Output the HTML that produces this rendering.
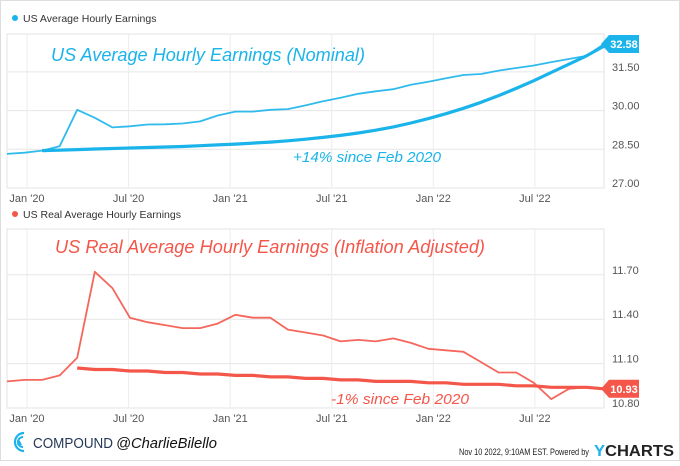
<!DOCTYPE html>
<html><head><meta charset="utf-8"><style>
html,body{margin:0;padding:0;background:#fff;}
body{width:680px;height:461px;overflow:hidden;font-family:"Liberation Sans",sans-serif;}
svg text{font-family:"Liberation Sans",sans-serif;}
</style></head><body>
<svg id="c" width="680" height="461" viewBox="0 0 680 461" xmlns="http://www.w3.org/2000/svg">
<rect x="0.5" y="0.5" width="679" height="460" fill="#fff" stroke="#ddd"/>
</svg>
<script>
const months = ['Dec19','Jan20','Feb20','Mar20','Apr20','May20','Jun20','Jul20','Aug20','Sep20','Oct20','Nov20','Dec20','Jan21','Feb21','Mar21','Apr21','May21','Jun21','Jul21','Aug21','Sep21','Oct21','Nov21','Dec21','Jan22','Feb22','Mar22','Apr22','May22','Jun22','Jul22','Aug22','Sep22','Oct22'];
const nominal = [28.32,28.37,28.45,28.62,30.03,29.72,29.35,29.39,29.46,29.47,29.50,29.58,29.81,29.96,29.96,30.03,30.06,30.20,30.36,30.50,30.65,30.75,30.83,31.00,31.12,31.25,31.38,31.42,31.55,31.65,31.75,31.88,32.00,32.12,32.58];
const nominalTrend = [null,null,28.45,28.47,28.49,28.51,28.53,28.55,28.57,28.59,28.61,28.64,28.67,28.70,28.74,28.78,28.83,28.89,28.96,29.04,29.13,29.24,29.37,29.52,29.69,29.88,30.09,30.32,30.58,30.86,31.16,31.48,31.80,32.12,32.50];
const real = [10.98,10.99,10.99,11.02,11.14,11.72,11.61,11.41,11.38,11.36,11.34,11.34,11.37,11.43,11.41,11.41,11.33,11.31,11.29,11.25,11.26,11.25,11.27,11.24,11.20,11.19,11.18,11.11,11.04,11.04,10.97,10.86,10.93,10.94,10.93];
const realTrend = [null,null,null,null,11.07,11.06,11.06,11.05,11.05,11.04,11.04,11.03,11.03,11.02,11.02,11.01,11.01,11.00,11.00,10.99,10.99,10.98,10.98,10.98,10.97,10.97,10.96,10.96,10.96,10.95,10.95,10.94,10.94,10.94,10.93];
const xTicks = ["Jan '20","Jul '20","Jan '21","Jul '21","Jan '22","Jul '22"];
const xTickIdx = [1,7,13,19,25,31];
const topTicks = [27.00,28.50,30.00,31.50];
const botTicks = [10.80,11.10,11.40,11.70];

const svg = document.getElementById('c');
const NS = 'http://www.w3.org/2000/svg';
function el(tag, attrs, parent){const e=document.createElementNS(NS,tag);for(const k in attrs)e.setAttribute(k,attrs[k]);(parent||svg).appendChild(e);return e;}
const X0=7, X1=604;
function xs(i){return X0 + i*(X1-X0)/(months.length-1);}
function gridX(i){return 27 + (i-1)*16.93;}

function panel(cfg){
  const g = el('g',{});
  
  
  const ys = v => cfg.bottom - (v-cfg.min)*cfg.scale;
  el('rect',{x:X0,y:cfg.top,width:X1-X0,height:cfg.bottom-cfg.top,fill:'none',stroke:'#e3e3e3'},g);
  cfg.ticks.forEach(t=>{
    const y=ys(t);
    const l=el('line',{x1:X0,x2:X1,y1:y,y2:y,stroke:'#e6e6e6'},g);
    
    
    const tx=el('text',{x:612,y:y-1,'font-size':11,fill:'#555'},g);
    tx.textContent=t.toFixed(2);
    
    
  });
  xTicks.forEach((lab,k)=>{
    const x=gridX(xTickIdx[k]);
    const l=el('line',{x1:x,x2:x,y1:cfg.top,y2:cfg.bottom,stroke:'#ececec'},g);
    
    
    const tx=el('text',{x:x,y:cfg.bottom+14,'font-size':11,fill:'#555','text-anchor':'middle'},g);
    tx.textContent=lab;
    
    
  });
  const ld=el('circle',{cx:15,cy:cfg.legendY-4,r:3,fill:cfg.color},g);
  
  
  const lt=el('text',{x:23,y:cfg.legendY,'font-size':10.5,fill:'#333'},g);
  lt.textContent=cfg.legend;
  
  
  const pts=cfg.values.map((v,i)=>xs(i).toFixed(1)+','+ys(v).toFixed(1)).join(' ');
  const p=el('polyline',{points:pts,fill:'none',stroke:cfg.color,'stroke-width':1.8,'stroke-linejoin':'round','stroke-opacity':0.9},g);
  
  
  const tp=[];cfg.trend.forEach((v,i)=>{if(v!==null)tp.push(xs(i).toFixed(1)+','+ys(v).toFixed(1));});
  const t=el('polyline',{points:tp.join(' '),fill:'none',stroke:cfg.color,'stroke-width':3.2,'stroke-linejoin':'round'},g);
  
  
  const lv=cfg.values[cfg.values.length-1], ly=ys(lv);
  const b=el('path',{d:`M${X1-3},${ly} L${X1+5},${ly-9} L${X1+35},${ly-9} L${X1+35},${ly+9} L${X1+5},${ly+9} Z`,fill:cfg.color},g);
  
  
  const bt=el('text',{x:X1+20,y:ly+4,'font-size':11,'font-weight':'bold',fill:'#fff','text-anchor':'middle'},g);
  bt.textContent=lv.toFixed(2);
  
  
  const a1=el('text',{x:cfg.titleX,y:cfg.titleY,'font-size':18,fill:cfg.color,'font-family':'DejaVu Sans, sans-serif','font-style':'italic',textLength:cfg.titleW,lengthAdjust:'spacingAndGlyphs'},g);
  a1.textContent=cfg.title;
  
  
  const a2=el('text',{x:cfg.noteX,y:cfg.noteY,'font-size':15,fill:cfg.color,'font-family':'DejaVu Sans, sans-serif','font-style':'italic',textLength:cfg.noteW,lengthAdjust:'spacingAndGlyphs'},g);
  a2.textContent=cfg.note;
  
  
}
panel({name:'nominal-earnings',top:34,bottom:188,min:27,scale:25.8,ticks:topTicks,color:'#1ab4ea',values:nominal,trend:nominalTrend,legendY:22,legend:'US Average Hourly Earnings',title:'US Average Hourly Earnings (Nominal)',titleX:51,titleY:61,titleW:314,note:'+14% since Feb 2020',noteX:293,noteY:162,noteW:148});
panel({name:'real-earnings',top:229,bottom:408,min:10.8,scale:148,ticks:botTicks,color:'#f4564a',values:real,trend:realTrend,legendY:218,legend:'US Real Average Hourly Earnings',title:'US Real Average Hourly Earnings (Inflation Adjusted)',titleX:55,titleY:253,titleW:430,note:'-1% since Feb 2020',noteX:331,noteY:404,noteW:138});

const logo=el('g',{});


el('path',{d:'M24,433 A9,9 0 1 0 24,451',fill:'none',stroke:'#1ab4ea','stroke-width':2.2},logo);
el('path',{d:'M23,437 A5,5 0 1 0 23,447',fill:'none',stroke:'#1ab4ea','stroke-width':2},logo);
el('path',{d:'M17,445 L19.5,440 L22,445 Z',fill:'#1ab4ea'},logo);
const ct=el('text',{x:33,y:448,'font-size':15,fill:'#253858',textLength:80,lengthAdjust:'spacingAndGlyphs'});
ct.textContent='COMPOUND';


const hd=el('text',{x:116,y:448,'font-size':15,fill:'#111','font-style':'italic','font-family':'DejaVu Sans, sans-serif',textLength:101,lengthAdjust:'spacingAndGlyphs'});
hd.textContent='@CharlieBilello';


const ft=el('text',{x:459,y:455,'font-size':9,fill:'#222',textLength:130,lengthAdjust:'spacingAndGlyphs'});
ft.textContent='Nov 10 2022, 9:10AM EST.  Powered by';


const yc=el('text',{x:594,y:456,'font-size':16,'font-weight':'bold',fill:'#222',textLength:80,lengthAdjust:'spacingAndGlyphs'});
yc.innerHTML='<tspan fill="#1ab4ea">Y</tspan>CHARTS';


</script>
</body></html>
